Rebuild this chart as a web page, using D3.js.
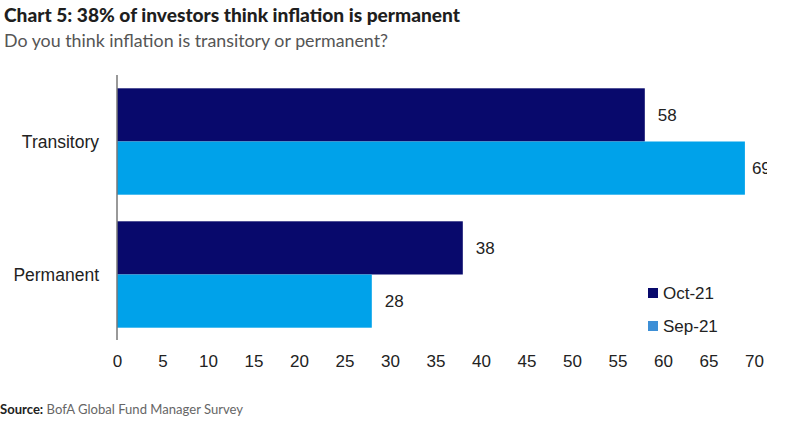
<!DOCTYPE html>
<html lang="en">
<head>
<meta charset="UTF-8">
<title>Chart 5</title>
<script src="https://d3js.org/d3.v7.min.js"></script>
<style>
  body { margin: 0; background: #fff; }
  svg { display: block; }
  .tick text { font-family: "Liberation Sans", Arial, sans-serif; font-size: 17px; fill: #222; }
</style>
</head>
<body>
<svg id="chart" width="800" height="430"></svg>
<script>
// data
var categories = ["Transitory", "Permanent"];
var seriesNames = ["Oct-21", "Sep-21"];
var oct21 = [58, 38];
var sep21 = [69, 28];
var xTicks = [0, 5, 10, 15, 20, 25, 30, 35, 40, 45, 50, 55, 60, 65, 70];

var colors = { "Oct-21": "#08096c", "Sep-21": "#00a2ea" };

var svg = d3.select("#chart");

var x = d3.scaleLinear().domain([0, 70]).range([117, 754]);
var y = d3.scaleBand().domain(categories).range([75, 341]).paddingInner(0.2).paddingOuter(0.1);
var ySub = d3.scaleBand().domain(seriesNames).range([0, y.bandwidth()]);

var rows = categories.map(function(c, i) {
  return { cat: c, values: [{ s: "Oct-21", v: oct21[i] }, { s: "Sep-21", v: sep21[i] }] };
});

// title block
svg.append("text")
  .attr("x", 4).attr("y", 22)
  .attr("textLength", 456).attr("lengthAdjust", "spacingAndGlyphs")
  .style("font-family", "Lato, 'Open Sans', sans-serif")
  .style("font-weight", "900").style("font-size", "18px").style("fill", "#1e1e1e")
  .text("Chart 5: 38% of investors think inflation is permanent");

svg.append("text")
  .attr("x", 4).attr("y", 47)
  .attr("textLength", 384).attr("lengthAdjust", "spacingAndGlyphs")
  .style("font-family", "Lato, 'Open Sans', sans-serif")
  .style("font-size", "17px").style("fill", "#555")
  .text("Do you think inflation is transitory or permanent?");

// clip at the right edge like the original (the 69 is cut)
svg.append("clipPath").attr("id", "clip")
  .append("rect").attr("x", 0).attr("y", 0).attr("width", 767).attr("height", 430);

var plot = svg.append("g").attr("clip-path", "url(#clip)");

var groups = plot.selectAll("g.row")
  .data(rows)
  .enter()
  .append("g")
  .attr("class", "row")
  .attr("transform", function(d) { return "translate(0," + y(d.cat) + ")"; });

groups.selectAll("rect")
  .data(function(d) { return d.values; })
  .enter()
  .append("rect")
  .attr("x", x(0))
  .attr("y", function(d) { return ySub(d.s); })
  .attr("width", function(d) { return x(d.v) - x(0); })
  .attr("height", ySub.bandwidth())
  .attr("fill", function(d) { return colors[d.s]; });

groups.selectAll("text")
  .data(function(d) { return d.values; })
  .enter()
  .append("text")
  .attr("x", function(d) { return x(d.v) + (d.v > 65 ? 7 : 13); })
  .attr("y", function(d) { return ySub(d.s) + ySub.bandwidth() / 2; })
  .attr("dy", "0.35em")
  .style("font-family", "'Liberation Sans', Arial, sans-serif")
  .style("font-size", "17px").style("fill", "#222")
  .text(function(d) { return d.v; });

// x axis: labels only
var xAxis = svg.append("g")
  .attr("transform", "translate(0,351)")
  .call(d3.axisBottom(x).tickValues(xTicks).tickSize(0).tickPadding(4));
xAxis.select(".domain").remove();

// y axis line and category labels
svg.append("line")
  .attr("x1", x(0)).attr("x2", x(0))
  .attr("y1", 75).attr("y2", 340)
  .attr("stroke", "#777").attr("stroke-width", 1.5);

svg.selectAll("text.cat")
  .data(categories)
  .enter()
  .append("text")
  .attr("class", "cat")
  .attr("x", 99)
  .attr("y", function(d) { return y(d) + y.bandwidth() / 2; })
  .attr("dy", "0.35em")
  .attr("text-anchor", "end")
  .style("font-family", "'Liberation Sans', Arial, sans-serif")
  .style("font-size", "17.5px").style("fill", "#222")
  .text(function(d) { return d; });

// legend
var legend = svg.selectAll("g.legend")
  .data(seriesNames)
  .enter()
  .append("g")
  .attr("class", "legend")
  .attr("transform", function(d, i) { return "translate(648," + (293 + i * 33) + ")"; });

legend.append("rect")
  .attr("x", 0).attr("y", -5)
  .attr("width", 10).attr("height", 10)
  .attr("fill", function(d) { return d === "Sep-21" ? "#3d8fd6" : colors[d]; });

legend.append("text")
  .attr("x", 15).attr("y", 0).attr("dy", "0.35em")
  .style("font-family", "'Liberation Sans', Arial, sans-serif")
  .style("font-size", "17px").style("fill", "#222")
  .text(function(d) { return d; });

// source
var src = svg.append("text")
  .attr("x", 0).attr("y", 414)
  .attr("textLength", 243).attr("lengthAdjust", "spacingAndGlyphs")
  .style("font-family", "Lato, 'Open Sans', sans-serif")
  .style("font-size", "13px").style("fill", "#666");
src.append("tspan").style("font-weight", "bold").style("fill", "#222").text("Source:");
src.append("tspan").text(" BofA Global Fund Manager Survey");
</script>
</body>
</html>
